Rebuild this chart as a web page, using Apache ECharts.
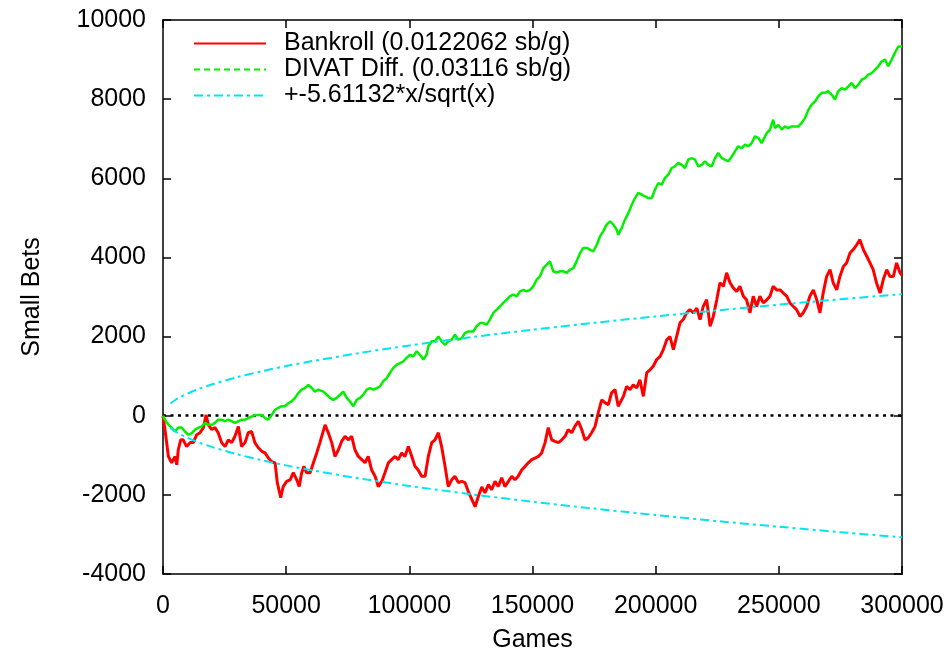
<!DOCTYPE html>
<html>
<head>
<meta charset="utf-8">
<script src="https://cdn.jsdelivr.net/npm/echarts@6/dist/echarts.min.js"></script>
<style>
  html, body { margin: 0; padding: 0; background: #fff; }
  #chart { width: 951px; height: 652px; }
</style>
</head>
<body>
<div id="chart"></div>
<script>
// Cumulative results in small bets, as [games, small bets]
const bankroll = [
  [0,0],[800,-350],[2200,-1030],[3500,-1190],[4900,-1030],[5600,-1240],[6200,-860],[7200,-610],[8200,-610],[9600,-780],
  [11000,-680],[12300,-680],[13700,-480],[15000,-430],[16400,-300],[17500,20],[18400,-230],[19800,-350],[21100,-300],[22400,-430],
  [23800,-680],[25200,-780],[26500,-610],[27900,-680],[29200,-520],[30600,-270],[31900,-780],[33300,-680],[34600,-430],[36000,-400],
  [37300,-680],[38700,-810],[40100,-900],[41400,-940],[42700,-1060],[44100,-1160],[45500,-1190],[46400,-1690],[47800,-2070],[48800,-1790],
  [50200,-1660],[51600,-1620],[52900,-1440],[54300,-1620],[55300,-1790],[56300,-1440],[57200,-1280],[58300,-1440],[59700,-1440],[62400,-940],
  [63700,-680],[65800,-230],[67100,-430],[68500,-680],[69800,-1030],[71200,-860],[72500,-650],[73900,-520],[75200,-610],[76600,-520],
  [77900,-860],[79300,-1030],[80700,-1110],[82000,-1190],[83300,-1030],[84700,-1370],[86100,-1530],[87400,-1790],[88800,-1660],[90100,-1440],
  [91500,-1190],[92800,-1110],[94200,-1030],[95500,-1110],[96900,-940],[98200,-1030],[99600,-780],[101000,-1030],[102300,-1280],[103600,-1370],
  [105000,-1530],[106400,-1530],[107700,-1030],[109100,-680],[110400,-610],[111800,-430],[113100,-780],[114500,-1280],[115800,-1790],[117200,-1620],
  [118500,-1530],[119900,-1690],[121300,-1660],[122600,-1690],[123900,-1910],[126700,-2300],[128000,-2040],[129400,-1800],[130700,-1950],[132100,-1740],
  [133400,-1870],[134800,-1660],[136100,-1790],[137500,-1570],[138800,-1790],[140200,-1660],[141600,-1530],[142900,-1620],[144200,-1530],[145600,-1370],
  [147000,-1280],[148300,-1190],[149700,-1110],[151000,-1070],[152400,-1030],[153700,-940],[155100,-680],[156400,-300],[157800,-610],[159100,-650],
  [160500,-680],[161900,-610],[163200,-520],[164500,-350],[165900,-430],[167200,-270],[168600,-140],[170000,-350],[171300,-610],[172600,-560],
  [174000,-430],[175400,-270],[176700,80],[178100,400],[179400,330],[180800,280],[182100,580],[183500,660],[184800,240],[185500,200],
  [186900,490],[188200,740],[189600,660],[190900,780],[192300,700],[193600,910],[195000,490],[196400,1090],[197700,1160],[199000,1250],
  [200400,1420],[201800,1500],[203100,1670],[204500,1920],[205800,2000],[207200,1670],[208500,2000],[209900,2350],[211200,2430],[212600,2600],
  [213900,2680],[215300,2600],[216700,2720],[218000,2430],[219300,2760],[220700,2930],[222100,2260],[223400,2510],[224800,2930],[226100,3360],
  [227500,3270],[228800,3610],[230200,3360],[231500,3230],[232900,3140],[234200,3270],[235600,3020],[236900,2930],[238300,2600],[239600,3020],
  [241000,2760],[242300,3020],[243700,2850],[245100,2930],[246400,3020],[247700,3270],[249100,3180],[250500,3180],[251800,3100],[253200,3020],
  [254500,2850],[255900,2760],[257200,2680],[258600,2510],[259900,2600],[261300,2760],[262600,3020],[264000,3180],[265400,2930],[266700,2600],
  [268000,3100],[269400,3520],[270800,3690],[272100,3350],[273500,3180],[274800,3520],[276200,3770],[277500,3860],[278900,4110],[280200,4200],
  [281600,4320],[282900,4450],[284300,4200],[285700,4030],[287000,3860],[288300,3690],[289700,3350],[291100,3100],[292400,3440],[293800,3690],
  [295100,3520],[296500,3520],[297800,3860],[299200,3610],[300000,3550]
];

const divatDiff = [
  [0,0],[800,-100],[2200,-230],[3500,-300],[4900,-400],[6200,-300],[7600,-300],[8900,-400],[10300,-480],[11700,-440],
  [13000,-350],[14300,-310],[15700,-270],[17100,-180],[18400,-230],[19800,-230],[21100,-180],[22400,-100],[23800,-100],[25200,-140],
  [26500,-100],[27900,-140],[29200,-180],[30600,-140],[31900,-100],[33300,-100],[34600,-60],[36000,-20],[37300,20],[38700,20],
  [40100,20],[41400,-60],[42700,-100],[44100,20],[45500,150],[46800,200],[48200,240],[49500,240],[50900,320],[52200,360],
  [53600,450],[54900,570],[56300,660],[57600,700],[59000,780],[60400,700],[61700,610],[63000,660],[65100,610],[66500,530],
  [67800,450],[69100,400],[70500,450],[71900,530],[73200,610],[74600,450],[75900,360],[77300,240],[78600,400],[80000,450],
  [81300,530],[82700,660],[84000,700],[85400,660],[86800,700],[88100,740],[89400,870],[90800,950],[92100,1080],[93500,1210],
  [94900,1290],[96200,1330],[97500,1370],[98900,1460],[100300,1540],[101600,1500],[103000,1630],[104300,1540],[105700,1420],[107000,1540],
  [107700,1750],[109100,1880],[110400,1880],[111800,2000],[113100,1880],[114500,1790],[115800,1880],[117200,1920],[118500,2050],[119900,1920],
  [121300,1960],[122600,2090],[123900,2130],[124600,2090],[126000,2130],[127300,2260],[128700,2340],[130000,2340],[131400,2300],[132700,2430],
  [134100,2600],[135500,2680],[136800,2760],[138100,2850],[139500,2930],[140900,3020],[142200,3060],[143600,3020],[144900,3140],[146300,3180],
  [147600,3140],[149000,3180],[150300,3270],[151700,3440],[153000,3520],[154400,3730],[155800,3820],[157100,3900],[158400,3650],[159800,3620],
  [161200,3650],[162500,3650],[163900,3610],[165200,3690],[166600,3730],[167900,3900],[169300,4110],[170600,4240],[172000,4240],[173300,4200],
  [174700,4150],[176100,4320],[177400,4530],[178700,4660],[180100,4830],[181500,4910],[182800,4830],[184200,4700],[184800,4570],[186200,4740],
  [187500,4950],[188900,5120],[190300,5330],[191600,5500],[192900,5630],[194300,5590],[195700,5540],[197000,5500],[198400,5500],[199700,5710],
  [201100,5880],[202400,5840],[203800,6010],[205100,6090],[206500,6260],[207800,6300],[209200,6390],[210600,6340],[211900,6260],[213200,6470],
  [214600,6510],[216000,6470],[217300,6300],[218700,6340],[220000,6430],[221400,6340],[222700,6300],[224100,6510],[225400,6640],[226800,6510],
  [228100,6470],[229500,6430],[230900,6550],[232200,6680],[233500,6810],[234900,6760],[236300,6850],[237600,6810],[239000,6890],[240300,7060],
  [241700,7020],[243000,6890],[243700,6850],[245100,7140],[246400,7230],[247700,7480],[248400,7270],[249800,7350],[251200,7230],[252500,7310],
  [253800,7270],[255200,7310],[256600,7310],[257900,7310],[259300,7400],[260600,7520],[262000,7730],[263300,7860],[264700,7940],[266000,8070],
  [267400,8160],[268700,8160],[270100,8200],[271500,8110],[272800,7990],[274100,8200],[275500,8280],[276900,8240],[278200,8320],[279600,8410],
  [280900,8280],[282200,8360],[283600,8490],[285000,8530],[286300,8620],[287700,8660],[289000,8740],[290400,8830],[291700,8950],[293100,9000],
  [294400,8830],[295800,9000],[297100,9170],[298500,9330],[300000,9330]
];

// Confidence envelope +-5.61132*x/sqrt(x), sampled
const boundGames  = [3000, 5000, 7000, 10000, 15000, 20000, 30000, 40000, 50000, 60000, 80000, 100000, 125000, 150000, 175000, 200000, 225000, 250000, 275000, 300000];
const boundValues = [307, 397, 469, 561, 687, 794, 972, 1122, 1255, 1374, 1587, 1774, 1984, 2173, 2347, 2509, 2662, 2806, 2943, 3073];

const xTicks = { min: 0, max: 300000, step: 50000 };
const yTicks = { min: -4000, max: 10000, step: 2000 };

const labelBankroll = 'Bankroll (0.0122062 sb/g)';
const labelDivat = 'DIVAT Diff. (0.03116 sb/g)';
const labelBound = '+-5.61132*x/sqrt(x)';

const FONT = '"Liberation Sans", Arial, Helvetica, sans-serif';
const upper = boundGames.map((g, i) => [g, boundValues[i]]);
const lower = boundGames.map((g, i) => [g, -boundValues[i]]);
const boundDash = [9, 4, 3, 4];

const chart = echarts.init(document.getElementById('chart'), null, { renderer: 'canvas' });

const frameAxis = {
  axisLine: { show: true, onZero: false, lineStyle: { color: '#000', width: 1.5 } },
  axisTick: { show: true, inside: true, length: 8, lineStyle: { color: '#000', width: 1.5 } },
  splitLine: { show: false }
};

chart.setOption({
  animation: false,
  backgroundColor: '#fff',
  grid: { left: 163, right: 49, top: 20, bottom: 78, containLabel: false, outerBoundsMode: 'none' },
  legend: {
    orient: 'vertical',
    left: 193,
    top: 31,
    padding: 0,
    itemWidth: 72,
    itemHeight: 14,
    itemGap: 1,
    itemStyle: { opacity: 0 },
    textStyle: { fontFamily: FONT, fontSize: 25, color: '#000', padding: [0, 0, 0, 13] },
    data: [
      { name: labelBankroll },
      { name: labelDivat, lineStyle: { type: [6, 4] } },
      { name: labelBound }
    ]
  },
  xAxis: [
    Object.assign({
      type: 'value', min: xTicks.min, max: xTicks.max, interval: xTicks.step,
      position: 'bottom',
      name: 'Games', nameLocation: 'middle', nameGap: 54,
      nameTextStyle: { fontFamily: FONT, fontSize: 25, color: '#000' },
      axisLabel: { fontFamily: FONT, fontSize: 25, color: '#000', margin: 20, formatter: v => String(v) }
    }, frameAxis),
    Object.assign({
      type: 'value', min: xTicks.min, max: xTicks.max, interval: xTicks.step,
      position: 'top', axisLabel: { show: false }
    }, frameAxis)
  ],
  yAxis: [
    Object.assign({
      type: 'value', min: yTicks.min, max: yTicks.max, interval: yTicks.step,
      position: 'left',
      name: 'Small Bets', nameLocation: 'middle', nameGap: 118, nameRotate: 90,
      nameTextStyle: { fontFamily: FONT, fontSize: 25, color: '#000' },
      axisLabel: { fontFamily: FONT, fontSize: 25, color: '#000', margin: 17, formatter: v => String(v) }
    }, frameAxis),
    Object.assign({
      type: 'value', min: yTicks.min, max: yTicks.max, interval: yTicks.step,
      position: 'right', axisLabel: { show: false }
    }, frameAxis)
  ],
  series: [
    {
      name: labelBankroll, type: 'line', data: bankroll,
      showSymbol: false, symbol: 'none',
      lineStyle: { color: '#ff0000', width: 3 },
      itemStyle: { color: '#ff0000' },
      z: 3,
      markLine: {
        silent: true, symbol: 'none', z: 1,
        label: { show: false },
        lineStyle: { color: '#000', type: [3, 4.5], width: 2.5 },
        data: [{ yAxis: 0 }]
      }
    },
    {
      name: labelDivat, type: 'line', data: divatDiff,
      showSymbol: false, symbol: 'none',
      lineStyle: { color: '#00f000', width: 2.5 },
      itemStyle: { color: '#00f000' },
      z: 4
    },
    {
      name: labelBound, type: 'line', data: upper, smooth: 0.3,
      showSymbol: false, symbol: 'none',
      lineStyle: { color: '#00e5ee', width: 2, type: boundDash },
      itemStyle: { color: '#00e5ee' },
      z: 5
    },
    {
      name: labelBound, type: 'line', data: lower, smooth: 0.3,
      showSymbol: false, symbol: 'none',
      lineStyle: { color: '#00e5ee', width: 2, type: boundDash },
      itemStyle: { color: '#00e5ee' },
      z: 5
    }
  ]
});
</script>
</body>
</html>
